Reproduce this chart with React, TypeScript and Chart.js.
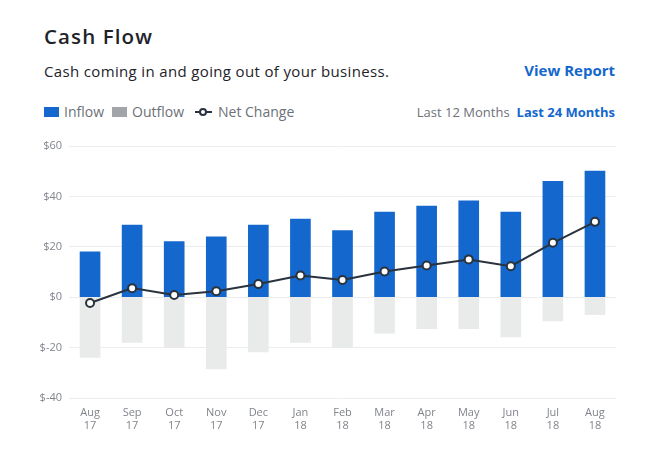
import React, { useEffect, useRef } from "react";
import { Chart, registerables } from "chart.js";

Chart.register(...registerables);

const months = ["Aug", "Sep", "Oct", "Nov", "Dec", "Jan", "Feb", "Mar", "Apr", "May", "Jun", "Jul", "Aug"];
const years = ["17", "17", "17", "17", "17", "18", "18", "18", "18", "18", "18", "18", "18"];
const inflow = [18.0, 28.6, 22.1, 24.0, 28.6, 31.0, 26.4, 33.8, 36.2, 38.2, 33.8, 46.0, 50.0];
const outflow = [-23.9, -17.9, -20.0, -28.5, -21.7, -17.9, -20.0, -14.3, -12.5, -12.5, -15.8, -9.4, -6.9];
const netChange = [-2.3, 3.6, 0.9, 2.4, 5.2, 8.6, 6.8, 10.2, 12.6, 15.0, 12.3, 21.6, 29.9];
const yTicks = [-40, -20, 0, 20, 40, 60];

const FONT = "'Open Sans', 'Noto Sans', sans-serif";
const BLUE = "#1467CC";
const DARK = "#1E2329";
const GRAY_TEXT = "#6C7178";

export default function App() {
  const canvasRef = useRef<HTMLCanvasElement | null>(null);

  useEffect(() => {
    const canvas = canvasRef.current;
    if (!canvas) return;
    const labels = months.map((m, i) => [m, years[i]]);
    const chart = new Chart(canvas, {
      type: "bar",
      data: {
        labels,
        datasets: [
          {
            type: "line",
            label: "Net Change",
            data: netChange,
            borderColor: "#29323D",
            borderWidth: 2,
            pointRadius: 4,
            pointBorderWidth: 2,
            pointBackgroundColor: "#FFFFFF",
            pointBorderColor: "#29323D",
            tension: 0,
            order: 0,
          } as any,
          {
            type: "bar",
            label: "Inflow",
            data: inflow,
            backgroundColor: BLUE,
            barThickness: 20,
            grouped: false,
            order: 1,
          } as any,
          {
            type: "bar",
            label: "Outflow",
            data: outflow,
            backgroundColor: "#E9EAEA",
            barThickness: 20,
            grouped: false,
            order: 2,
          } as any,
        ],
      },
      options: {
        animation: false,
        responsive: false,
        maintainAspectRatio: false,
        layout: { padding: { top: 16, right: 40, left: 0, bottom: 0 } },
        plugins: {
          legend: { display: false },
          tooltip: { enabled: false },
        },
        scales: {
          x: {
            grid: { display: false },
            border: { display: false },
            ticks: {
              color: "#80848B",
              font: { family: FONT, size: 11, lineHeight: 1.2 },
              padding: 0,
              maxRotation: 0,
              autoSkip: false,
            },
            afterFit: (s: any) => {
              s.height = 42;
            },
          },
          y: {
            min: -40,
            max: 60,
            afterBuildTicks: (s: any) => {
              s.ticks = yTicks.map((v) => ({ value: v }));
            },
            grid: { color: "#ECEDEE", lineWidth: 1, drawTicks: false },
            border: { display: false },
            ticks: {
              color: "#80848B",
              font: { family: FONT, size: 11 },
              padding: 7,
              callback: (v: any) => "$" + v,
            },
            afterFit: (s: any) => {
              s.width = 69;
            },
          },
        },
      },
    });
    return () => chart.destroy();
  }, []);

  const abs = (style: React.CSSProperties): React.CSSProperties => ({
    position: "absolute",
    whiteSpace: "nowrap",
    lineHeight: 1,
    fontFamily: FONT,
    ...style,
  });

  return (
    <div style={{ position: "fixed", left: 0, top: 0, width: 656, height: 458, background: "#fff" }}>
      <div style={abs({ left: 44, top: 26, fontSize: 20.5, fontWeight: 600, letterSpacing: 1.1, color: DARK })}>Cash Flow</div>
      <div style={abs({ left: 44, top: 64, fontSize: 15, letterSpacing: 0.35, color: DARK })}>
        Cash coming in and going out of your business.
      </div>
      <div style={abs({ right: 41, top: 63, fontSize: 15, fontWeight: 700, color: BLUE })}>View Report</div>

      <div style={abs({ left: 44, top: 105, fontSize: 14, color: GRAY_TEXT, display: "flex", alignItems: "center" })}>
        <span style={{ display: "inline-block", width: 15, height: 10, background: BLUE, marginRight: 5 }} />
        <span>Inflow</span>
        <span style={{ display: "inline-block", width: 15, height: 10, background: "#A1A5AA", marginLeft: 8, marginRight: 5 }} />
        <span>Outflow</span>
        <span style={{ position: "relative", display: "inline-block", width: 17, height: 11, marginLeft: 11, marginRight: 6 }}>
          <span style={{ position: "absolute", left: 0, top: 4.5, width: 17, height: 2, background: "#29323D" }} />
          <span style={{ position: "absolute", left: 4, top: 1.5, width: 4, height: 4, borderRadius: "50%", border: "2px solid #29323D", background: "#fff" }} />
        </span>
        <span>Net Change</span>
      </div>
      <div style={abs({ right: 41, top: 106, fontSize: 13, display: "flex" })}>
        <span style={{ color: GRAY_TEXT, marginRight: 7 }}>Last 12 Months</span>
        <span style={{ color: BLUE, fontWeight: 700 }}>Last 24 Months</span>
      </div>

      <canvas ref={canvasRef} width={656} height={310} style={{ position: "absolute", left: 0, top: 130, width: 656, height: 310 }} />
    </div>
  );
}
